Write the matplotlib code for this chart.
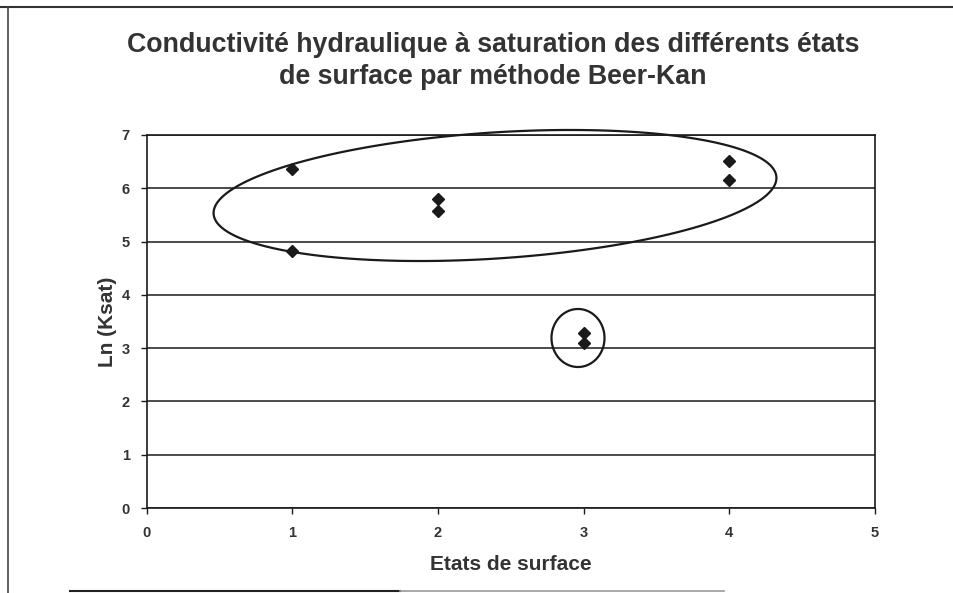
import numpy as np
import matplotlib
matplotlib.use("Agg")
import matplotlib.pyplot as plt
from matplotlib.lines import Line2D
from matplotlib.patches import Polygon

# ---- data ----
etats = [1, 1, 2, 2, 3, 3, 4, 4]
ln_ksat = [6.36, 4.83, 5.80, 5.58, 3.29, 3.09, 6.52, 6.15]
x_ticks = [0, 1, 2, 3, 4, 5]
y_ticks = [0, 1, 2, 3, 4, 5, 6, 7]
title = "Conductivité hydraulique à saturation des différents états\nde surface par méthode Beer-Kan"
xlabel = "Etats de surface"
ylabel = "Ln (Ksat)"

plt.rcParams["font.family"] = ["Liberation Sans", "DejaVu Sans"]

ink = "#1a1a1a"
txt = "#333333"
W, H = 954, 593
fig = plt.figure(figsize=(W / 100, H / 100), dpi=100)
L, R, T, B = 146.5, 875, 135, 508
ax = fig.add_axes([L / W, 1 - B / H, (R - L) / W, (B - T) / H])

ax.set_xlim(0, 5)
ax.set_ylim(0, 7)
ax.set_xticks(x_ticks)
ax.set_yticks(y_ticks)
ax.yaxis.grid(True, color=ink, lw=1.1)
ax.set_axisbelow(True)
for s in ax.spines.values():
    s.set_color(ink)
    s.set_linewidth(1.2)
ax.tick_params(axis="both", colors=ink, labelsize=10.5, width=1, length=4, direction="out")
ax.tick_params(axis="x", pad=9)
ax.tick_params(axis="y", pad=8)
for lab in ax.get_xticklabels() + ax.get_yticklabels():
    lab.set_fontweight("bold")
    lab.set_color(txt)

ax.plot(etats, ln_ksat, linestyle="none", marker="D", markersize=6.5,
        color=ink, clip_on=False, zorder=4)

ax.set_xlabel(xlabel, fontsize=15, fontweight="bold", color=txt, labelpad=11)
ax.set_ylabel(ylabel, fontsize=15, fontweight="bold", color=txt, labelpad=3)

fig.text(493 / W, 1 - 61 / H, title, ha="center", va="center", fontsize=19.3,
         fontweight="bold", color=txt, linespacing=1.3)

# ---- hand-drawn grouping ellipses (pixel-space geometry) ----
def ellipse_pts(cx, cy, a, b, ang_deg, n=300):
    t = np.linspace(0, 2 * np.pi, n, endpoint=False)
    th = np.deg2rad(ang_deg)
    x = cx + a * np.cos(t) * np.cos(th) - b * np.sin(t) * np.sin(th)
    y = cy + a * np.cos(t) * np.sin(th) + b * np.sin(t) * np.cos(th)
    return x, y

def px_to_data(px, py):
    return (px - L) / (R - L) * 5, (B - py) / (B - T) * 7

def draw_loop(cx, cy, a, b, ang):
    ex, ey = ellipse_pts(cx, H - cy, a, b, ang)
    dx, dy = px_to_data(ex, H - ey)
    ax.add_patch(Polygon(np.column_stack([dx, dy]), closed=True, fill=False,
                         edgecolor=ink, lw=1.6, clip_on=False, zorder=5))

# big ellipse around states 1, 2 and 4; small one around state 3
draw_loop(495, 195.5, 282, 63, 3.75)
draw_loop(578, 338, 26.5, 29, 0)

# ---- scanned page frame ----
fig.add_artist(Line2D([0, 1], [1 - 7 / H, 1 - 7 / H], transform=fig.transFigure, color="#333333", lw=1.5))
fig.add_artist(Line2D([8 / W, 8 / W], [0, 1 - 7 / H], transform=fig.transFigure, color="#444444", lw=1.2))
fig.add_artist(Line2D([70 / W, 400 / W], [1 - 591 / H, 1 - 591 / H], transform=fig.transFigure, color="#222222", lw=1.5))
fig.add_artist(Line2D([400 / W, 724 / W], [1 - 591 / H, 1 - 591 / H], transform=fig.transFigure, color="#999999", lw=1.2))

fig.savefig("out.png", dpi=100)
